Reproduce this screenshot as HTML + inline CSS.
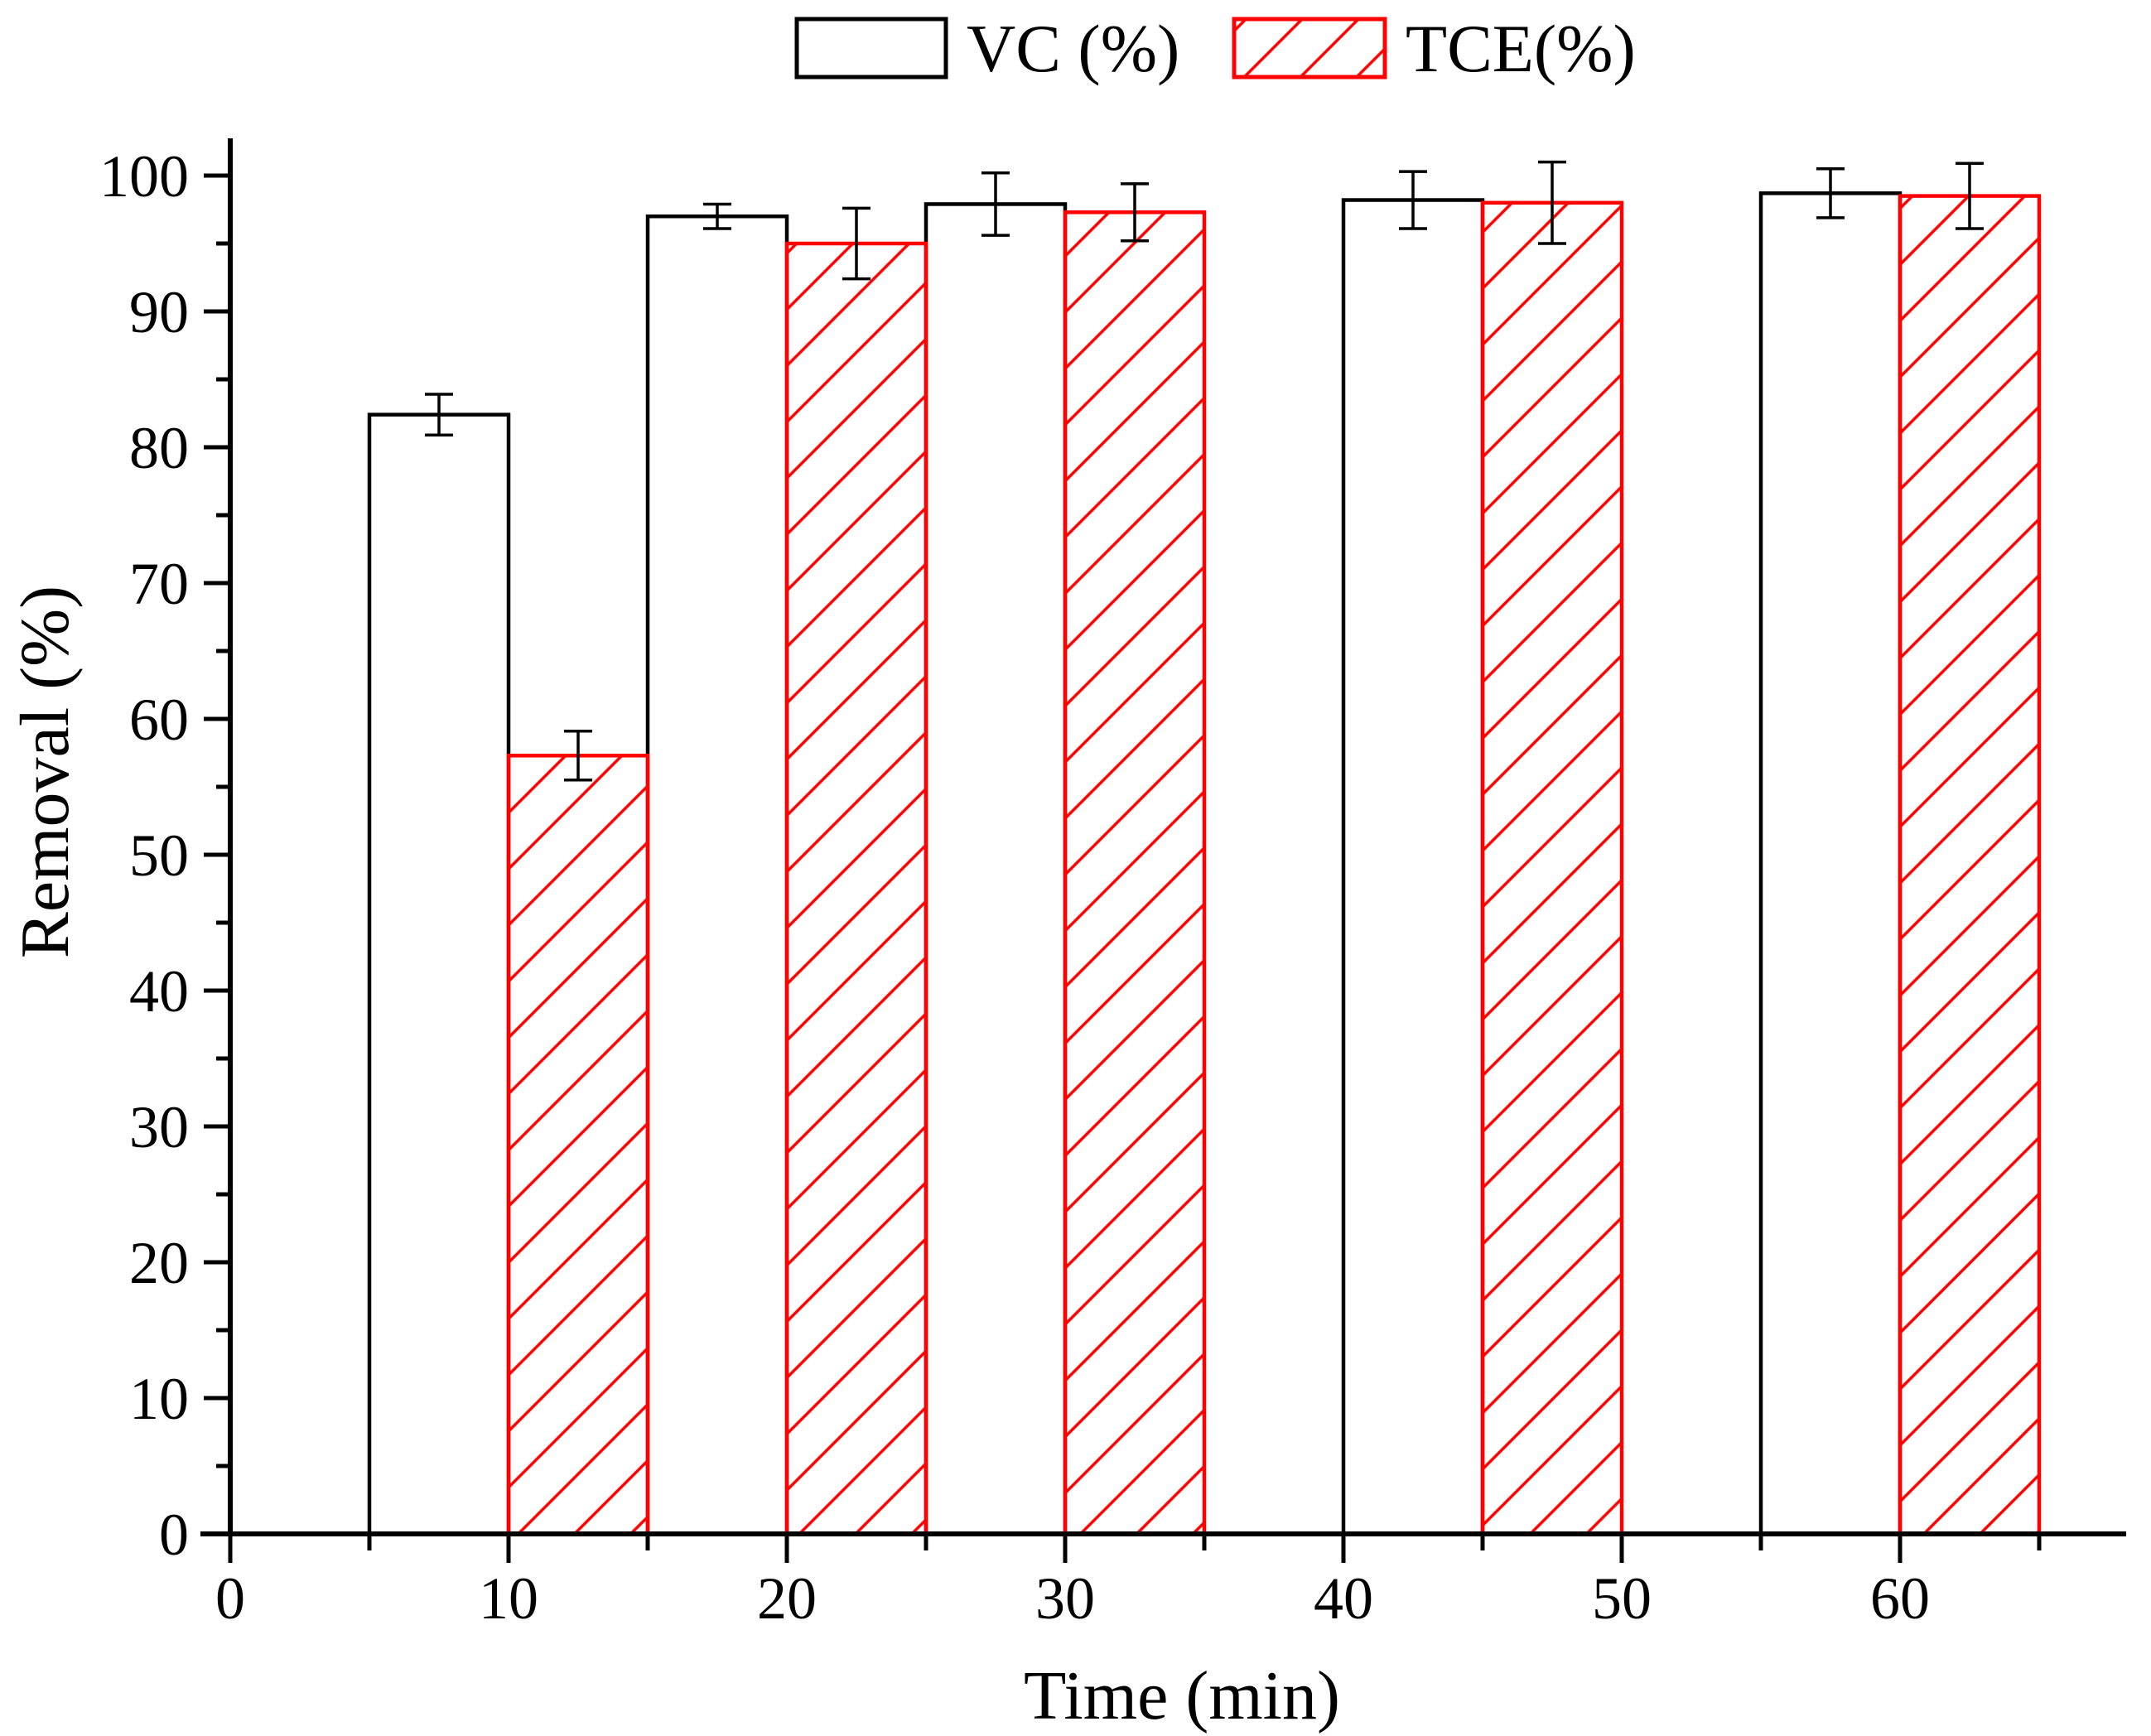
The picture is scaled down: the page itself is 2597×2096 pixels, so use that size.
<!DOCTYPE html>
<html><head><meta charset="utf-8"><style>
html,body{margin:0;padding:0;background:#fff;}
svg{display:block;font-family:"Liberation Serif",serif;}
</style></head><body>
<svg id="chart" width="2597" height="2096" viewBox="0 0 2597 2096">
<defs>
<pattern id="hatch" patternUnits="userSpaceOnUse" width="48" height="48" patternTransform="rotate(45)">
<line x1="24" y1="-2" x2="24" y2="50" stroke="#ff0000" stroke-width="3.5"/>
</pattern>
</defs>
<g id="legend">
<rect x="962" y="23" width="180" height="70" fill="#fff" stroke="#000" stroke-width="5"/>
<text x="1167" y="86" font-size="82">VC (%)</text>
<rect x="1490" y="23" width="182" height="70" fill="url(#hatch)" stroke="#ff0000" stroke-width="5"/>
<text x="1697" y="86" font-size="82">TCE(%)</text>
</g>
<g id="bars"></g>
<g id="axes"></g>
<text x="1427" y="2075" font-size="84" text-anchor="middle">Time (min)</text>
<text transform="translate(82,932) rotate(-90)" font-size="84" text-anchor="middle">Removal (%)</text>
</svg>
<script>
const vcTimes = [7.5, 17.5, 27.5, 42.5, 57.5];
const vcValues = [82.4, 97.0, 97.9, 98.2, 98.7];
const vcErrors = [1.5, 0.9, 2.3, 2.1, 1.8];
const tceTimes = [12.5, 22.5, 32.5, 47.5, 62.5];
const tceValues = [57.3, 95.0, 97.3, 98.0, 98.5];
const tceErrors = [1.8, 2.6, 2.1, 3.0, 2.4];
const xTickLabels = [0, 10, 20, 30, 40, 50, 60];
const yTickLabels = [0, 10, 20, 30, 40, 50, 60, 70, 80, 90, 100];

const NS = 'http://www.w3.org/2000/svg';
const X0 = 278, XU = 33.6, Y0 = 1852, YU = 16.4;
const BW = 5;
function sx(v){return X0 + v*XU;}
function sy(v){return Y0 - v*YU;}
function mk(tag, attrs, parent){
  const e = document.createElementNS(NS, tag);
  for (const k in attrs) e.setAttribute(k, attrs[k]);
  parent.appendChild(e);
  return e;
}
const bars = document.getElementById('bars');
const axes = document.getElementById('axes');

function drawSeries(times, vals, errs, fill, stroke, name){
  times.forEach((t, i) => {
    const x1 = sx(t - BW/2), x2 = sx(t + BW/2), yt = sy(vals[i]);
    const r = mk('rect', {x:x1, y:yt, width:x2-x1, height:Y0-yt, fill:fill, stroke:stroke, 'stroke-width':4.5}, bars);
    
    
    const cx = sx(t), ya = sy(vals[i]+errs[i]), yb = sy(vals[i]-errs[i]);
    const g = mk('g', {stroke:'#000', 'stroke-width':3.5}, bars);
    
    
    mk('line', {x1:cx, y1:ya, x2:cx, y2:yb}, g);
    mk('line', {x1:cx-17, y1:ya, x2:cx+17, y2:ya}, g);
    mk('line', {x1:cx-17, y1:yb, x2:cx+17, y2:yb}, g);
  });
}
drawSeries(vcTimes, vcValues, vcErrors, '#fff', '#000', 'vc');
drawSeries(tceTimes, tceValues, tceErrors, 'url(#hatch)', '#ff0000', 'tce');

const xa = mk('line', {x1:242, y1:Y0, x2:2567, y2:Y0, stroke:'#000', 'stroke-width':6}, axes);


const ya = mk('line', {x1:X0, y1:167, x2:X0, y2:Y0+3, stroke:'#000', 'stroke-width':6}, axes);



for (let v = 0; v <= 65; v += 5){
  const major = v % 10 === 0;
  const t = mk('line', {x1:sx(v), y1:Y0, x2:sx(v), y2:Y0 + (major?35:20), stroke:'#000', 'stroke-width':5}, axes);
  
  
}
xTickLabels.forEach(v => {
  const t = mk('text', {x:sx(v), y:Y0+102, 'font-size':72, 'text-anchor':'middle'}, axes);
  t.textContent = v;
  
  
});
for (let v = 0; v <= 100; v += 5){
  const major = v % 10 === 0;
  const t = mk('line', {x1:X0, y1:sy(v), x2:X0 - (major?32:17), y2:sy(v), stroke:'#000', 'stroke-width':5}, axes);
  
  
}
yTickLabels.forEach(v => {
  const t = mk('text', {x:X0-50, y:sy(v)+25, 'font-size':72, 'text-anchor':'end'}, axes);
  t.textContent = v;
  
  
});
</script>
</body></html>
